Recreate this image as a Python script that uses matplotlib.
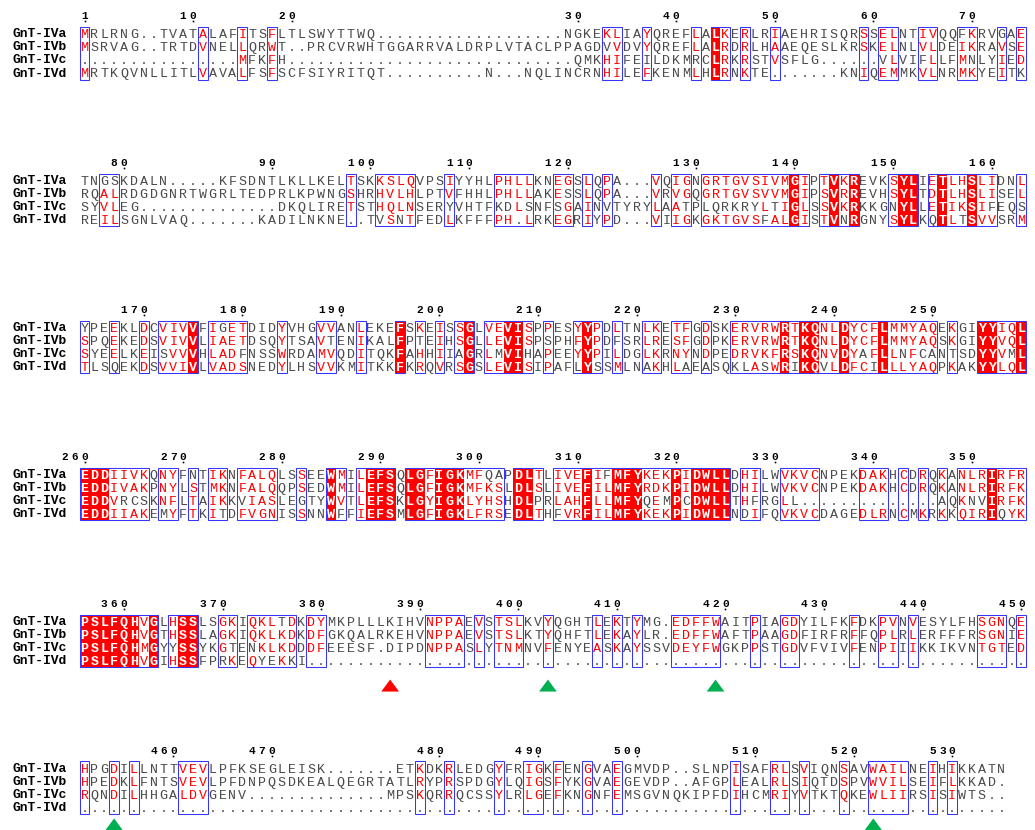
import matplotlib
matplotlib.use("Agg")
import matplotlib.pyplot as plt
from matplotlib.patches import Rectangle, Polygon

# ---------------- data ----------------
seq_names = ["GnT-IVa", "GnT-IVb", "GnT-IVc", "GnT-IVd"]

blk1 = [
    "MRLRNG..TVATALAFITSFLTLSWYTTWQ...................NGKEKLIAYQREFLALKERLRIAEHRISQRSSELNTIVQQFKRVGAE",
    "MSRVAG..TRTDVNELLQRWT..PRCVRWHTGGARRVALDRPLVTACLPPAGDVVDVYQREFLALRDRLHAAEQESLKRSKELNLVLDEIKRAVSE",
    "................MFKFH.............................QMKHIFEILDKMRCLRKRSTVSFLG......VLVIFLLFMNLYIED",
    "MRTKQVNLLITLVAVALFSFSCFSIYRITQT..........N...NQLINCRNHILEFKENMLHLRNKTE.......KNIQEMMKVLNRMKYEITK",
]
blk2 = [
    "TNGSKDALN.....KFSDNTLKLLKELTSKKSLQVPSIYYHLPHLLKNEGSLQPA...VQIGNGRTGVSIVMGIPTVKREVKSYLIETLHSLIDNL",
    "RQALRDGDGNRTWGRLTEDPRLKPWNGSHRHVLHLPTVFHHLPHLLAKESSLQPA...VRVGQGRTGVSVVMGIPSVRREVHSYLTDTLHSLISEL",
    "SYVLEG..............DKQLIRETSTHQLNSERYVHTFKDLSNFSGAINVTYRYLAATPLQRKRYLTIGLSSVKRKKGNYLLETIKSIFEQS",
    "REILSGNLVAQ.......KADILNKNE..TVSNTFEDLKFFFPH.LRKEGRIYPD...VIIGKGKTGVSFALGISTVNRGNYSYLKQTLTSVVSRM",
]
blk3 = [
    "YPEEKLDCVIVVFIGETDIDYVHGVVANLEKEFSKEISSGLVEVISPPESYYPDLTNLKETFGDSKERVRWRTKQNLDYCFLMMYAQEKGIYYIQL",
    "SPQEKEDSVIVVLIAETDSQYTSAVTENIKALFPTEIHSGLLEVISPSPHFYPDFSRLRESFGDPKERVRWRTKQNLDYCFLMMYAQSKGIYYVQL",
    "SYEELKEISVVVHLADFNSSWRDAMVQDITQKFAHHIIAGRLMVIHAPEEYYPILDGLKRNYNDPEDRVKFRSKQNVDYAFLLNFCANTSDYYVML",
    "TLSQEKDSVVIVLVADSNEDYLHSVVKMITKKFKRQVRSGSLEVISIPAFLYSSMLNAKHLAEASQKLASWRIKQVLDFCILLLYAQPKAKYYLQL",
]
blk4 = [
    "EDDIIVKQNYFNTIKNFALQLSSEEWMILEFSQLGFIGKMFQAPDLTLIVEFIFMFYKEKPIDWLLDHILWVKVCNPEKDAKHCDRQKANLRIRFR",
    "EDDIVAKPNYLSTMKNFALQQPSEDWMILEFSQLGFIGKMFKSLDLSLIVEFILMFYRDKPIDWLLDHILWVKVCNPEKDAKHCDRQKANLRIRFK",
    "EDDVRCSKNFLTAIKKVIASLEGTYWVTLEFSKLGYIGKLYHSHDLPRLAHFLLMFYQEMPCDWLLTHFRGLL..............AQKNVIRFK",
    "EDDIIAKEMYFTKITDFVGNISSNNWFFIEFSMLGFIGKLFRSEDLTHFVRFILMFYKEKPIDWLLNDIFQVKVCDAGEDLRNCMKRKKQIRIQYK",
]
blk5 = [
    "PSLFQHVGLHSSLSGKIQKLTDKDYMKPLLLKIHVNPPAEVSTSLKVYQGHTLEKTYMG.EDFFWAITPIAGDYILFKFDKPVNVESYLFHSGNQE",
    "PSLFQHVGTHSSLAGKIQKLKDKDFGKQALRKEHVNPPAEVSTSLKTYQHFTLEKAYLR.EDFFWAFTPAAGDFIRFRFFQPLRLERFFFRSGNIE",
    "PSLFQHMGYYSSYKGTENKLKDDDFEEESF.DIPDNPPASLYTNMNVFENYEASKAYSSVDEYFWGKPPSTGDVFVIVFENPIIIKKIKVNTGTED",
    "PSLFQHVGIHSSFPRKEQYEKKI.........................................................................",
]
blk6 = [
    "HPGDILLNTTVEVLPFKSEGLEISK.......ETKDKRLEDGYFRIGKFENGVAEGMVDP..SLNPISAFRLSVIQNSAVWAILNEIHIKKATN",
    "HPEDKLFNTSVEVLPFDNPQSDKEALQEGRTATLRYPRSPDGYLQIGSFYKGVAEGEVDP..AFGPLEALRLSIQTDSPVWVILSEIFLKKAD.",
    "RQNDILHHGALDVGENV..............MPSKQRRQCSSYLRLGEFKNGNFEMSGVNQKIPFDIHCMRIYVTKTQKEWLIIRSISIWTS..",
    "..............................................................................................",
]
blocks = [blk1, blk2, blk3, blk4, blk5, blk6]

extra_frames = [[80], [32, 34], [61], [19, 20, 51, 81, 90], [44, 53, 94], [78]]
no_frames = [[], [], [], [21], [], []]

# residue markers under the alignment: block index, alignment column, colour
marker_block = [4, 4, 4, 5, 5]
marker_col = [32, 48, 65, 4, 81]
marker_color = ["#FF0000", "#00B050", "#00B050", "#00B050", "#00B050"]

for bi, blk in enumerate(blocks):
    lens = [len(s) for s in blk]
    assert len(set(lens)) == 1, f"block {bi+1} lengths {lens}"

# ---------------- similarity (ESPript-like) ----------------
SIM = set()
for grp in ["ILVM", "FYW", "KRH", "DE", "ST", "AV"]:
    for a in grp:
        for b in grp:
            SIM.add((a, b))


def similar(a, b):
    return a == b or (a, b) in SIM


def analyse(chars):
    res = [c for c in chars if c != "."]
    if len(res) == len(chars) and len(set(res)) == 1:
        return "ident", set(range(len(chars)))
    best, bestn = set(), 0
    for r in set(res):
        mem = {i for i, c in enumerate(chars) if c != "." and similar(r, c)}
        if len(mem) > bestn:
            best, bestn = mem, len(mem)
    if bestn >= 3:
        return "sim", best
    return None, set()


# ---------------- layout ----------------
W, H = 1035, 830
COL1_PX, PITCH = 84.5, 9.86
ROW0, BLOCK_DY, ROW_DY = 33.5, 146.9, 13.15

fig = plt.figure(figsize=(W / 100, H / 100), dpi=100)
ax = fig.add_axes([0, 0, 1, 1])
ax.set_xlim(1 - COL1_PX / PITCH, 1 + (W - COL1_PX) / PITCH)
ax.set_ylim(H, 0)
ax.axis("off")

SEQ_FONT = "Liberation Mono"
GREY = "#4a4a4a"
RED = "#FF0000"
BLUE = "#3535FF"

res_no = 0
for bi, blk in enumerate(blocks):
    y_top = ROW0 + bi * BLOCK_DY
    ys = [y_top + r * ROW_DY for r in range(4)]
    box_top = ys[0] - ROW_DY / 2
    box_h = ys[-1] - ys[0] + ROW_DY
    ncol = len(blk[0])

    # names
    for r, nm in enumerate(seq_names):
        ax.text(-6.35, ys[r] + 3.6, nm, fontfamily=SEQ_FONT, fontweight="bold",
                fontsize=9.4, color="black", va="baseline", ha="left")

    # numbering along first sequence
    for c in range(1, ncol + 1):
        if blk[0][c - 1] == ".":
            continue
        res_no += 1
        if res_no == 1 or res_no % 10 == 0:
            s = str(res_no)
            for k, d in enumerate(s):
                ax.text(c - (len(s) - 1 - k), ys[0] - 17.5, d, fontfamily=SEQ_FONT,
                        fontweight="bold", fontsize=8.0, color="black",
                        ha="center", va="center")
            ax.plot([c], [ys[0] - 12.0], marker="s", ms=1.2, color="black", mew=0)

    # conservation
    status = []
    for c in range(ncol):
        chars = [blk[r][c] for r in range(4)]
        st, mem = analyse(chars)
        if (c + 1) in no_frames[bi]:
            st, mem = None, set()
        elif (c + 1) in extra_frames[bi] and st is None:
            st, mem = "sim", {i for i, ch in enumerate(chars) if ch != "."}
        status.append((st, mem))

    # fills
    for c, (st, mem) in enumerate(status):
        if st == "ident":
            ax.add_patch(Rectangle((c + 0.5, box_top), 1.0, box_h,
                                   facecolor=RED, edgecolor="none", zorder=1))

    # frames around runs of conserved columns
    c = 0
    while c < ncol:
        if status[c][0] is not None:
            s0 = c
            while c + 1 < ncol and status[c + 1][0] is not None:
                c += 1
            ax.add_patch(Rectangle((s0 + 0.5, box_top), c - s0 + 1, box_h,
                                   facecolor="none", edgecolor=BLUE, lw=0.75, zorder=3))
        c += 1

    # letters
    for r in range(4):
        for c in range(ncol):
            ch = blk[r][c]
            st, mem = status[c]
            weight = "normal"
            if ch == ".":
                col = GREY
            elif st == "ident":
                col, weight = "white", "bold"
            elif st == "sim" and r in mem:
                col = RED
            else:
                col = GREY
            ax.text(c + 1, ys[r] + 4.5, ch, fontfamily=SEQ_FONT, fontsize=9.6,
                    fontweight=weight, color=col, ha="center", va="baseline", zorder=2)

# triangles
for b, c, colr in zip(marker_block, marker_col, marker_color):
    y_top = ROW0 + b * BLOCK_DY
    apex = y_top + 3 * ROW_DY + (19 if b == 4 else 11)
    tri = Polygon([(c - 0.9, apex + 12), (c + 0.9, apex + 12), (c, apex)],
                  closed=True, facecolor=colr, edgecolor="none", zorder=4)
    ax.add_patch(tri)

fig.savefig("out.png", dpi=100)
